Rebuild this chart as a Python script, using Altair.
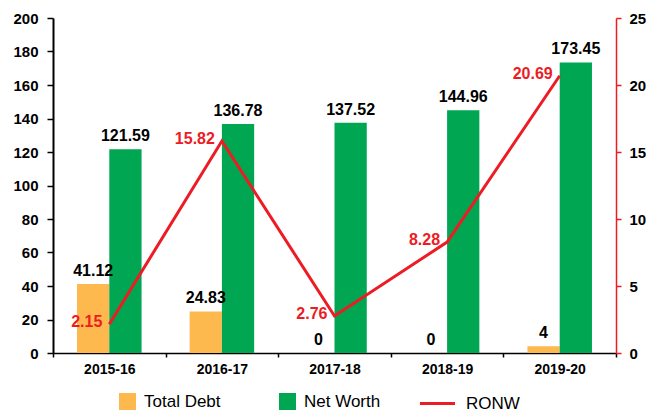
import altair as alt
import pandas as pd

years = ["2015-16", "2016-17", "2017-18", "2018-19", "2019-20"]
total_debt = [41.12, 24.83, 0, 0, 4]
net_worth = [121.59, 136.78, 137.52, 144.96, 173.45]
ronw = [2.15, 15.82, 2.76, 8.28, 20.69]

series_names = ["Total Debt", "Net Worth"]
bar_colors = ["#FDB94E", "#00A651"]
red = "#ED1C24"
FONT = "Liberation Sans"


def fmt(v):
    return f"{v:g}"


rows = []
for y, d, n in zip(years, total_debt, net_worth):
    rows.append({"year": y, "series": "Total Debt", "value": d, "label": fmt(d)})
    rows.append({"year": y, "series": "Net Worth", "value": n, "label": fmt(n)})
df_bar = pd.DataFrame(rows)

df_line = pd.DataFrame({
    "year": years,
    "ronw": ronw,
    "label": [fmt(v) for v in ronw],
    "series": ["RONW"] * len(years),
})

x_enc = alt.X(
    "year:N",
    sort=years,
    scale=alt.Scale(paddingInner=0, paddingOuter=0),
    axis=alt.Axis(
        title=None, labelAngle=0, tickBand="extent", labelFont=FONT,
        labelFontSize=14, labelFontWeight="bold", labelColor="black",
        domainColor="black", domainWidth=1.5, tickColor="black", tickWidth=1.5,
        tickSize=4, labelPadding=5,
    ),
)
xoff_enc = alt.XOffset(
    "series:N", sort=series_names,
    scale=alt.Scale(paddingInner=0, paddingOuter=0.745),
)
y_left = alt.Y(
    "value:Q",
    scale=alt.Scale(domain=[0, 200], nice=False),
    axis=alt.Axis(
        title=None, values=list(range(0, 201, 20)), grid=False,
        labelFont=FONT, labelFontSize=15, labelFontWeight="bold",
        labelColor="black", domainColor="black", domainWidth=2,
        tickColor="black", tickWidth=1.5, tickSize=6, labelPadding=9,
    ),
)
y_right = alt.Y(
    "ronw:Q",
    scale=alt.Scale(domain=[0, 25], nice=False),
    axis=alt.Axis(
        title=None, orient="right", values=[0, 5, 10, 15, 20, 25], grid=False,
        labelFont=FONT, labelFontSize=15, labelFontWeight="bold",
        labelColor="black", domainColor=red, domainWidth=1.5,
        tickColor=red, tickWidth=1.5, tickSize=5, labelPadding=8,
    ),
)

bars = alt.Chart(df_bar).mark_bar().encode(
    x=x_enc,
    xOffset=xoff_enc,
    y=y_left,
    color=alt.Color(
        "series:N",
        scale=alt.Scale(domain=series_names, range=bar_colors),
        legend=alt.Legend(
            title=None, orient="none", legendX=66, legendY=375,
            direction="horizontal", symbolType="square", symbolSize=289,
            symbolStrokeWidth=0, labelFont=FONT, labelFontSize=17,
            labelColor="black", labelOffset=8, columnPadding=58,
        ),
    ),
)

bar_text = alt.Chart(df_bar).mark_text(
    baseline="bottom", dy=-5, font=FONT, fontSize=16, fontWeight="bold",
    color="black",
).encode(x=x_enc, xOffset=xoff_enc, y=y_left, text="label:N")

line = alt.Chart(df_line).mark_line(strokeWidth=3).encode(
    x=x_enc,
    y=y_right,
    stroke=alt.Stroke(
        "series:N",
        scale=alt.Scale(domain=["RONW"], range=[red]),
        legend=alt.Legend(
            title=None, orient="none", legendX=376, legendY=377,
            symbolType="M-3,0H3", symbolSize=136, symbolStrokeWidth=3,
            labelFont=FONT, labelFontSize=17, labelColor="black",
            labelOffset=20,
        ),
    ),
)

line_text = alt.Chart(df_line).mark_text(
    align="right", baseline="middle", dx=-7, dy=-2, font=FONT, fontSize=16,
    fontWeight="bold", color=red,
).encode(x=x_enc, y=y_right, text="label:N")

left = alt.layer(bars, bar_text)
right = alt.layer(line, line_text)

chart = alt.layer(left, right).resolve_scale(y="independent").properties(
    width=563,
    height=335,
    autosize=alt.AutoSizeParams(type="none"),
    padding={"left": 45, "top": 10, "right": 31, "bottom": 58},
).configure_view(stroke=None)

chart.save("out.html", embed_options={"renderer": "svg", "actions": False})
